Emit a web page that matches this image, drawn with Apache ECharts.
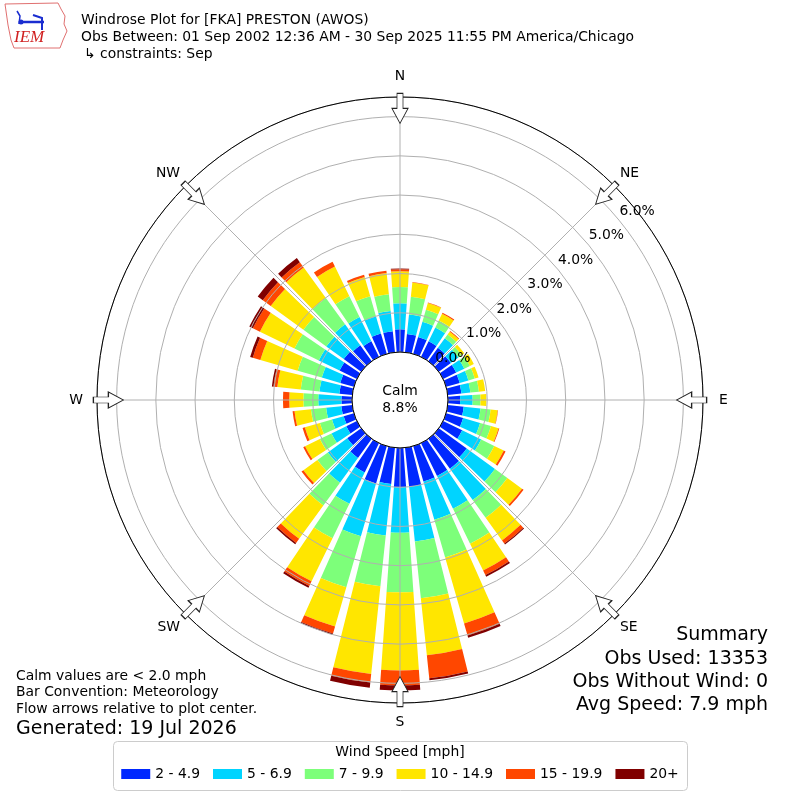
<!DOCTYPE html>
<html><head><meta charset="utf-8">
<script src="https://cdn.jsdelivr.net/npm/echarts@6/dist/echarts.min.js"></script>
<style>html,body{margin:0;padding:0;background:#fff}#c{width:800px;height:800px}</style>
</head><body><div id="c"></div>
<script>
// ---------- DATA ----------
const directions = [0,10,20,30,40,50,60,70,80,90,100,110,120,130,140,150,160,170,180,190,200,210,220,230,240,250,260,270,280,290,300,310,320,330,340,350];
const speedBins = ['2 - 4.9','5 - 6.9','7 - 9.9','10 - 14.9','15 - 19.9','20+'];
// frequency (%) per direction for each speed bin
const bin2to4_9 = [0.58,0.47,0.45,0.44,0.42,0.38,0.37,0.36,0.35,0.31,0.41,0.45,0.54,0.88,0.94,0.93,0.94,1.00,1.00,0.93,0.99,0.83,0.60,0.44,0.30,0.27,0.28,0.27,0.33,0.36,0.49,0.55,0.50,0.44,0.54,0.54];
const bin5to6_9 = [0.66,0.50,0.40,0.39,0.30,0.24,0.23,0.23,0.23,0.32,0.43,0.45,0.54,0.89,0.99,0.93,1.01,1.40,1.16,1.32,1.40,0.89,0.78,0.61,0.42,0.31,0.39,0.59,0.51,0.49,0.59,0.55,0.66,0.69,0.46,0.52];
const bin7to9_9 = [0.42,0.45,0.32,0.20,0.12,0.10,0.16,0.17,0.22,0.20,0.26,0.29,0.37,0.39,0.56,0.99,1.00,1.46,1.52,1.30,1.35,0.98,0.72,0.33,0.33,0.32,0.39,0.38,0.48,0.64,0.69,0.72,0.83,0.59,0.53,0.43];
const bin10to14_9 = [0.40,0.37,0.18,0.19,0.09,0.08,0.11,0.10,0.16,0.15,0.18,0.20,0.27,0.46,0.71,0.76,1.75,1.46,1.99,2.25,1.04,1.22,1.05,0.44,0.42,0.40,0.42,0.36,0.60,0.99,0.98,1.03,0.96,0.84,0.51,0.54];
const bin15to19_9 = [0.05,0.01,0.01,0.03,0.02,0.00,0.00,0.00,0.00,0.00,0.01,0.02,0.05,0.05,0.10,0.13,0.32,0.59,0.38,0.22,0.19,0.13,0.13,0.06,0.05,0.06,0.05,0.16,0.10,0.20,0.20,0.25,0.17,0.14,0.06,0.06];
const bin20plus = [0.02,0,0,0,0,0,0,0,0,0,0,0,0,0,0.03,0.05,0.06,0.05,0.13,0.13,0.03,0.05,0.04,0,0,0,0,0,0.04,0.07,0.10,0.16,0.13,0,0,0];
const compassTicks = [0,45,90,135,180,225,270,315];
const compassNames = ['N','NE','E','SE','S','SW','W','NW'];
const radialMax = 6.5;
const radialStep = 1;
const calmPct = 8.8;
const obsUsed = 13353;
const obsWithoutWind = 0;
const avgSpeed = 7.9;
const calmThreshold = 2.0;

// ---------- STYLE / LAYOUT ----------
const binArrays = [bin2to4_9, bin5to6_9, bin7to9_9, bin10to14_9, bin15to19_9, bin20plus];
const colors = ['#0028ff','#00d4ff','#7dff7a','#ffe600','#ff4700','#800000'];
const FONT = 'DejaVu Sans';
const CENTER = [400, 400];
const ARROW_R = 6.21;
const ARROW_PATH = 'path://M8,0 L16,15 L11,15 L11,30 L5,30 L5,15 L0,15 Z';
// per-label nudges for compass label placement
const labelRich = {
  pn: {fontSize: 13.9, color: '#000', fontFamily: FONT, padding: [0, 0, 6, 0]},
  ps: {fontSize: 13.9, color: '#000', fontFamily: FONT, padding: [4, 0, 0, 0]},
  pe: {fontSize: 13.9, color: '#000', fontFamily: FONT, padding: [0, 0, 0, 8]},
  pw: {fontSize: 13.9, color: '#000', fontFamily: FONT, padding: [0, 6, 0, 0]},
  pd: {fontSize: 13.9, color: '#000', fontFamily: FONT}
};
const labelKey = {N: 'pn', S: 'ps', E: 'pe', W: 'pw'};

const chart = echarts.init(document.getElementById('c'), null, {renderer: 'canvas'});

const barSeries = speedBins.map((name, i) => ({
  type: 'bar', name, coordinateSystem: 'polar', polarIndex: 0, stack: 'wind',
  data: binArrays[i], barCategoryGap: '20%', itemStyle: {color: colors[i]}, z: 2, silent: true
}));

const option = {
  animation: false,
  backgroundColor: '#fff',
  textStyle: {fontFamily: FONT},
  polar: [
    {center: CENTER, radius: [48, 303]},
    {center: CENTER, radius: [48, 303]},
    {center: CENTER, radius: [67.5, 322.5]}
  ],
  angleAxis: [
    {polarIndex: 0, type: 'category', data: directions.map(String), startAngle: 95, clockwise: true,
     axisLine: {show: false}, axisTick: {show: false}, axisLabel: {show: false}, splitLine: {show: false}},
    {polarIndex: 1, type: 'value', min: 0, max: 360, interval: 45, startAngle: 90, clockwise: true, z: 5,
     axisLine: {show: true, lineStyle: {color: '#000', width: 1}}, axisTick: {show: false},
     axisLabel: {show: true, margin: 8, fontSize: 13.9, color: '#000', fontFamily: FONT, rich: labelRich,
       formatter: v => { const k = compassTicks.indexOf(v); if (k < 0) return ''; const n = compassNames[k]; return '{' + (labelKey[n] || 'pd') + '|' + n + '}'; }},
     splitLine: {show: true, lineStyle: {color: '#b0b0b0', width: 1}}},
    {polarIndex: 2, type: 'value', min: 0, max: 360, startAngle: 38.5, clockwise: true,
     axisLine: {show: false}, axisTick: {show: false}, axisLabel: {show: false}, splitLine: {show: false}}
  ],
  radiusAxis: [
    {polarIndex: 0, min: 0, max: radialMax, axisLine: {show: false}, axisTick: {show: false}, axisLabel: {show: false}, splitLine: {show: false}},
    {polarIndex: 1, min: 0, max: radialMax, interval: radialStep, z: 4, axisLine: {show: false}, axisTick: {show: false}, axisLabel: {show: false},
     splitLine: {show: true, lineStyle: {color: '#b0b0b0', width: 1}}},
    {polarIndex: 2, min: 0, max: radialMax, interval: radialStep, z: 6, axisLine: {show: false}, axisTick: {show: false}, splitLine: {show: false},
     axisLabel: {show: true, margin: 0, align: 'center', verticalAlign: 'middle', fontSize: 13.9, color: '#000', fontFamily: FONT,
       formatter: v => (Math.abs(v - Math.round(v)) < 1e-9 ? v.toFixed(1) + '%' : '')}}
  ],
  legend: {
    data: speedBins, top: 762, left: 'center', itemWidth: 29, itemHeight: 10, itemGap: 13, icon: 'rect',
    selectedMode: false, z: 10, textStyle: {fontSize: 13.9, color: '#000', fontFamily: FONT}
  },
  series: barSeries.concat([{
    type: 'scatter', coordinateSystem: 'polar', polarIndex: 1, symbol: ARROW_PATH, symbolSize: [16, 30],
    data: compassTicks.map(d => ({value: [ARROW_R, d], symbolRotate: 180 - d})),
    itemStyle: {color: '#fff', borderColor: '#222', borderWidth: 1, opacity: 1}, z: 8, silent: true
  }]),
  graphic: [
    // logo
    {type: 'polygon', z: 1, shape: {points: [[5,4],[58,3],[61,9],[65,16],[64,24],[67,31],[63,40],[60,48],[14,48],[11,40],[8,25]]},
     style: {fill: 'none', stroke: '#e07070', lineWidth: 1}},
    {type: 'polyline', z: 1, shape: {points: [[20,22],[44,22]]}, style: {stroke: '#1a2dd0', lineWidth: 2.5, fill: 'none'}},
    {type: 'polyline', z: 1, shape: {points: [[17,11],[20,16],[19,24]]}, style: {stroke: '#1a2dd0', lineWidth: 1.5, fill: 'none'}},
    {type: 'polyline', z: 1, shape: {points: [[33,15],[42,18],[42,30]]}, style: {stroke: '#1a2dd0', lineWidth: 2, fill: 'none'}},
    {type: 'circle', z: 1, shape: {cx: 21, cy: 22, r: 2.5}, style: {fill: '#1a2dd0'}},
    {type: 'text', z: 1, style: {x: 14, y: 29, text: 'IEM', font: 'italic 17px "Liberation Serif"', fill: '#d02020'}},
    // header
    {type: 'text', z: 1, style: {x: 81, y: 20, text: 'Windrose Plot for [FKA] PRESTON (AWOS)', font: '13.9px "DejaVu Sans"', fill: '#000', verticalAlign: 'middle'}},
    {type: 'text', z: 1, style: {x: 81, y: 37, text: 'Obs Between: 01 Sep 2002 12:36 AM - 30 Sep 2025 11:55 PM America/Chicago', font: '13.9px "DejaVu Sans"', fill: '#000', verticalAlign: 'middle'}},
    {type: 'text', z: 1, style: {x: 84, y: 54, text: '↳ constraints: Sep', font: '13.9px "DejaVu Sans"', fill: '#000', verticalAlign: 'middle'}},
    // calm
    {type: 'text', z: 20, style: {x: 400, y: 400, text: 'Calm\n' + calmPct.toFixed(1) + '%', font: '13.9px "DejaVu Sans"', fill: '#000', align: 'center', verticalAlign: 'middle', lineHeight: 17}},
    // bottom left
    {type: 'text', z: 1, style: {x: 16, y: 676, text: 'Calm values are < ' + calmThreshold.toFixed(1) + ' mph', font: '13.9px "DejaVu Sans"', fill: '#000', verticalAlign: 'middle'}},
    {type: 'text', z: 1, style: {x: 16, y: 692.5, text: 'Bar Convention: Meteorology', font: '13.9px "DejaVu Sans"', fill: '#000', verticalAlign: 'middle'}},
    {type: 'text', z: 1, style: {x: 16, y: 709, text: 'Flow arrows relative to plot center.', font: '13.9px "DejaVu Sans"', fill: '#000', verticalAlign: 'middle'}},
    {type: 'text', z: 1, style: {x: 16, y: 729, text: 'Generated: 19 Jul 2026', font: '19px "DejaVu Sans"', fill: '#000', verticalAlign: 'middle'}},
    // summary
    {type: 'text', z: 1, style: {x: 768, y: 635, text: 'Summary', font: '19px "DejaVu Sans"', fill: '#000', align: 'right', verticalAlign: 'middle'}},
    {type: 'text', z: 1, style: {x: 768, y: 659, text: 'Obs Used: ' + obsUsed, font: '19px "DejaVu Sans"', fill: '#000', align: 'right', verticalAlign: 'middle'}},
    {type: 'text', z: 1, style: {x: 768, y: 682, text: 'Obs Without Wind: ' + obsWithoutWind, font: '19px "DejaVu Sans"', fill: '#000', align: 'right', verticalAlign: 'middle'}},
    {type: 'text', z: 1, style: {x: 768, y: 705, text: 'Avg Speed: ' + avgSpeed.toFixed(1) + ' mph', font: '19px "DejaVu Sans"', fill: '#000', align: 'right', verticalAlign: 'middle'}},
    // legend frame + title
    {type: 'rect', z: 1, shape: {x: 113.5, y: 741.5, width: 574, height: 49, r: 4}, style: {fill: 'rgba(255,255,255,0.8)', stroke: '#cccccc', lineWidth: 1}},
    {type: 'text', z: 2, style: {x: 400, y: 752, text: 'Wind Speed [mph]', font: '13.9px "DejaVu Sans"', fill: '#000', align: 'center', verticalAlign: 'middle'}}
  ]
};
chart.setOption(option);
</script>
</body></html>
